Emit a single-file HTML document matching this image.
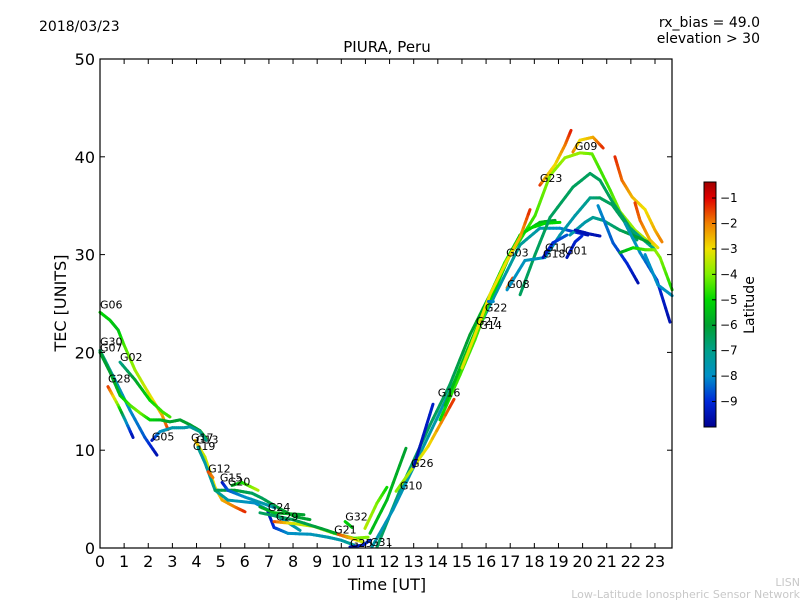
<!DOCTYPE html>
<html><head><meta charset="utf-8"><style>
html,body{margin:0;padding:0;background:#fff;}
svg{display:block;font-family:"DejaVu Sans","Liberation Sans",sans-serif;}
</style></head><body>
<svg id="chart" width="800" height="600" viewBox="0 0 800 600" xmlns="http://www.w3.org/2000/svg">
<rect x="0" y="0" width="800" height="600" fill="#fff"/>
<text x="39" y="31" font-size="14">2018/03/23</text>
<text x="760" y="27" font-size="14" text-anchor="end">rx_bias = 49.0</text>
<text x="760" y="43" font-size="14" text-anchor="end">elevation &gt; 30</text>
<text x="387" y="52" font-size="15" text-anchor="middle">PIURA, Peru</text>
<text x="387" y="590" font-size="16" text-anchor="middle">Time [UT]</text>
<text x="0" y="0" font-size="16" text-anchor="middle" transform="translate(66,303) rotate(-90)">TEC [UNITS]</text>
<g id="plot"></g>
<rect x="100" y="59" width="572" height="489" fill="none" stroke="#000" stroke-width="1.2"/>
<g id="axes"></g>
<defs><linearGradient id="cbg" x1="0" y1="1" x2="0" y2="0"></linearGradient></defs>
<g id="cbar"></g>
<text x="0" y="0" font-size="14" text-anchor="middle" transform="translate(754,305) rotate(-90)">Latitude</text>
<text x="800" y="586" font-size="11" fill="#c8c8c8" text-anchor="end">LISN</text>
<text x="800" y="598" font-size="11" fill="#c8c8c8" text-anchor="end">Low-Latitude Ionospheric Sensor Network</text>
</svg>
<script>
// ---- data ----
const xTicks = [0,1,2,3,4,5,6,7,8,9,10,11,12,13,14,15,16,17,18,19,20,21,22,23];
const yTicks = [0,10,20,30,40,50];
const latTicks = [-1,-2,-3,-4,-5,-6,-7,-8,-9];
const trackNames = ["G06","G30","G07","G28","G02","G05","G19","G17","G13","G20","G15","G12","G24","G29","G24b","G29b","G32","G21","G25","G32b","G10","G31","G16","G14","G26","G09a","G03","G27","G08","G22","G23","G09","G11a","G11b","G11c","Gd1","Gd2","Gt1","Gr1","Gr2","Gg1","G01a","G18","G01"];
const trackTimes = [
[0,.41,.75,.99,1.45,2.07,2.57,2.82],
[0,.62,1.24,1.86,2.36],
[0,.41,.83,1.24,1.66,2.07,2.49,2.9,3.32,3.73,4.14,4.4],
[.33,.75,1.04,1.37],
[.83,1.45,2.07,2.6,2.9],
[2.15,2.49,3.0,3.5,3.73,4.14,4.4],
[3.94,4.35,4.77,5.06,5.59,6.01],
[4.06,4.35,4.77,5.3,6.42,6.96,7.79,8.29],
[4.77,5.59,6.3,6.71,7.54,8.08,8.7],
[5.47,5.88,6.55],
[5.06,5.3,6.01,6.71,7.25],
[4.48,4.68],
[6.96,7.21,7.79,8.74,9.45,9.99,10.53],
[7.21,8.04,8.87,9.7,10.53,11.11],
[6.63,7.21,8.45],
[6.63,7.99,9.41,10.24,10.8],
[10.16,10.45],
[9.87,10.4,10.9],
[10.36,10.9,11.2],
[10.98,11.48,11.89],
[11.48,12.43,13.68,14.5,15.33,16.16,16.78,17.41,18.23,18.86],
[11.27,12.14,13.14,14.09,14.92,15.75,16.58,17.41,18.23,19.06,19.69,20.22],
[12.27,13.6,14.67],
[13.0,13.8],
[11.19,11.89,12.68],
[14.09,14.92,15.54,16.16,16.78,17.41,18.03,18.65,19.27,19.89,20.39,20.72,21.14,21.55,22.17,22.79,23.21,23.71],
[14.3,15.13,15.75,16.45,16.99,17.41,17.82,18.44,19.06],
[15.0,15.54,16.16,16.87,17.41,17.82],
[16.87,17.1],
[16.1,16.3],
[18.23,18.44,18.86,19.27,19.52],
[19.6,19.89,20.43,20.85],
[17.41,18.03,18.65,19.6,20.31,20.72,21.26,21.84,22.25],
[16.87,17.61,18.44,19.06,19.69,20.31,20.72,21.22,21.84,22.38,23.0],
[19.48,20.1,20.43,20.85,21.55,22.25,22.79],
[20.64,21.26,21.84,22.3],
[21.76,22.38,23.08,23.62],
[22.59,23.12,23.71],
[21.34,21.63,22.05,22.59,23,23.29],
[22.17,22.38,22.79,23.12],
[21.55,22.09,22.59,23],
[19.69,20.31,20.72],
[18.36,18.77,19.35],
[19.35,19.69,19.97]
];
const trackTec = [
[24.1,23.3,22.3,20.8,18.2,15.6,13.6,12.1],
[20.2,17.2,14.1,11.3,9.5],
[20,18,15.6,14.6,13.8,13.1,13.1,12.9,13.1,12.6,12,11.2],
[16.5,14.6,13.1,11.3],
[19,17.2,15.1,13.9,13.4],
[11,11.9,12.3,12.3,12.4,11.9,11],
[11,9.3,6.2,4.9,4.2,3.7],
[10.3,8.7,5.9,4.9,4.6,3.9,2.6,1.8],
[5.9,5.9,5.6,5.1,3.9,3.2,2.9],
[6.4,6.7,5.9],
[6.7,5.9,5.2,4.6,4.1],
[7.8,7.2],
[3.7,2.1,1.5,1.4,1.1,0.8,0.3],
[2.7,2.5,2.2,1.5,1.0,1.1],
[4.2,3.6,3.4],
[3.6,2.9,1.8,1.1,0.8],
[2.7,2.1],
[1.4,1.0,0.6],
[0.1,0.3,0.8],
[2,4.6,6.2],
[.1,5.9,12.6,16.7,21.8,25.9,29.2,32,33.3,33.5],
[.1,3.9,9,13.9,18.2,22.8,26.9,31,32.7,32.7,32.3,32],
[5.8,10.4,15.2],
[8.3,14.7],
[1.5,4.9,10.2],
[13.1,17.7,21.3,25.4,29.2,31.5,34,38.1,39.9,40.4,40.3,38.7,36.6,34.4,32.5,31.2,29.7,26.4],
[14.6,19.7,23.3,26.9,30,32,32.7,33.2,33.3],
[18.4,21.8,25.9,29.4,31.8,34.6],
[26.6,27.6],
[25.2,25.2],
[37.1,37.8,39.2,41.2,42.7],
[40.5,41.7,42,40.9],
[25.9,30,33.8,36.9,38.3,37.6,35.3,33.2,31.5],
[26.4,29.4,29.7,32,34,35.8,35.8,35.1,33,31.8,30.5],
[32,33.3,33.8,33.5,32.5,31.8,31.2],
[35,31.2,29.1,27.1],
[33.2,30.2,27.4,23.1],
[30,26.9,25.8],
[40,37.6,35.9,34.6,32.5,31.3],
[35.3,33.5,31.5,30.7],
[30.2,30.7,30.5,30.5],
[32.5,32.1,31.9],
[29.7,31.2,32],
[29.7,31.3,31.9]
];
const trackLat = [
[-5,-5.2,-5.5,-4.5,-3.8,-3.2,-2.5,-1.5],
[-6.5,-7.5,-8,-8.5,-9.6],
[-6,-6,-5.5,-4.5,-4,-5,-5.5,-6,-6,-6,-6,-5.5],
[-1.3,-4,-7.5,-9.6],
[-7,-6,-5,-4.5,-4.5],
[-9.5,-8,-7.5,-7.5,-7.5,-7,-7],
[-2.5,-3.5,-3,-2.5,-2,-1.3],
[-7,-7.5,-7,-7.5,-8,-8,-7.5,-7.5],
[-6.5,-6,-6.5,-6.5,-6,-6,-6],
[-6,-5,-3.5],
[-9.5,-8.5,-8,-7.5,-7.5],
[-1.5,-2],
[-9.6,-9,-8,-7.8,-7.5,-7.5,-7],
[-1.5,-3.3,-3.5,-3.8,-4,-4],
[-6,-5.5,-6],
[-6.5,-6.5,-6,-5.5,-4.5],
[-5,-5.5],
[-1.5,-2.5,-3.5],
[-9.6,-9.2,-9],
[-3.5,-4,-5],
[-6.5,-6.8,-6.5,-6.5,-6,-5.5,-5,-5,-5.5,-6],
[-7.5,-7.8,-7.5,-7.5,-7.5,-7.5,-7.5,-7.2,-7.5,-8,-9,-9.6],
[-4,-3,-1.3],
[-9.6,-9.2],
[-5.5,-5.5,-6],
[-5,-4.5,-4.5,-4.5,-4.5,-4.8,-4.5,-4,-3.8,-3.8,-4.2,-4.5,-4.5,-4,-3.8,-3.5,-4,-4.8],
[-5.5,-5.5,-5,-5,-5,-5.2,-5,-5,-5],
[-3.2,-3,-3,-3,-2.5,-1.3],
[-2.2,-1.5],
[-8.5,-8],
[-1.3,-2.5,-3,-2,-1.2],
[-2,-3,-2.5,-1.3],
[-6.5,-6.5,-6.5,-6.5,-6.5,-6.5,-6.5,-6.5,-6.5],
[-8,-7.8,-7.8,-7.5,-7.5,-7,-6.5,-6.5,-6.5,-7,-7],
[-7.5,-7.5,-7.2,-7,-6.5,-6,-6],
[-8,-8.5,-9,-9.6],
[-7.5,-8,-9,-9.6],
[-8,-8,-7.8],
[-1.3,-1.8,-2.5,-3,-2.5,-2],
[-1.5,-1.8,-2.5,-3],
[-6,-5,-4.5,-4],
[-9.5,-9.5,-9.5],
[-9.5,-9,-8.5],
[-9.5,-9.2,-9]
];
const labelNames = ["G06","G30","G07","G02","G28","G05","G17","G13","G19","G12","G15","G20","G24","G29","G32","G21","G25","G31","G10","G26","G16","G27","G14","G22","G08","G03","G11","G18","G01","G23","G09"];
const labelTimes = [0,0,0,.83,.33,2.15,3.77,3.98,3.85,4.48,4.97,5.3,6.96,7.29,10.16,9.7,10.36,11.19,12.43,12.89,14.0,15.58,15.72,15.95,16.87,16.83,18.44,18.36,19.27,18.23,19.68];
const labelTec = [24.4,20.6,20,19,16.8,10.9,10.8,10.6,9.9,7.6,6.7,6.3,3.7,2.7,2.7,1.4,0,0.1,5.9,8.2,15.4,22.7,22.3,24.1,26.5,29.7,30.2,29.6,29.9,37.3,40.6];

// ---- scales ----
const X0=100, X1=672, Y0=548, Y1=59;
const tMax = (X1-X0)/24.13;
function xs(t){return X0 + t*(X1-X0)/tMax;}
function ys(v){return Y0 - v*(Y0-Y1)/50;}
const latMin=-10, latMax=-0.37;
const cStops=[[-10,[0,0,144]],[-9,[0,40,216]],[-8,[0,144,200]],[-7,[0,160,138]],[-6,[0,160,48]],[-5,[0,216,0]],[-4,[128,240,0]],[-3,[240,224,0]],[-2,[240,128,0]],[-1,[224,0,0]],[-0.37,[160,0,0]]];
function col(l){
  l=Math.max(latMin,Math.min(latMax,l));
  for(let i=0;i<cStops.length-1;i++){
    const a=cStops[i],b=cStops[i+1];
    if(l<=b[0]){const f=(l-a[0])/(b[0]-a[0]);
      const c=a[1].map((v,k)=>Math.round(v+(b[1][k]-v)*f));
      return `rgb(${c[0]},${c[1]},${c[2]})`;}
  }
  return 'rgb(160,0,0)';
}
const NS="http://www.w3.org/2000/svg";
function mk(tag,attrs,parent){const e=document.createElementNS(NS,tag);for(const k in attrs)e.setAttribute(k,attrs[k]);parent.appendChild(e);return e;}

// ---- tracks ----
const plot=document.getElementById('plot');
trackTimes.forEach((ts,i)=>{
  const g=mk('g',{},plot);
  
  
  const vs=trackTec[i], ls=trackLat[i];
  for(let j=0;j<ts.length-1;j++){
    const n=6;
    for(let k=0;k<n;k++){
      const f0=k/n,f1=(k+1)/n,fm=(k+.5)/n;
      const t0=ts[j]+(ts[j+1]-ts[j])*f0, t1=ts[j]+(ts[j+1]-ts[j])*f1;
      const v0=vs[j]+(vs[j+1]-vs[j])*f0, v1=vs[j]+(vs[j+1]-vs[j])*f1;
      const l=ls[j]+(ls[j+1]-ls[j])*fm;
      const s=mk('line',{x1:xs(t0).toFixed(2),y1:ys(v0).toFixed(2),x2:xs(t1).toFixed(2),y2:ys(v1).toFixed(2),stroke:col(l),'stroke-width':3,'stroke-linecap':'round'},g);
      
      
    }
  }
});
labelNames.forEach((n,i)=>{
  const t=mk('text',{x:xs(labelTimes[i]).toFixed(1),y:(ys(labelTec[i])-1).toFixed(1),'font-size':11},plot);
  
  
  t.textContent=n;
});

// ---- axes ----
const axes=document.getElementById('axes');
xTicks.forEach(v=>{
  const x=xs(v);
  const a=mk('line',{x1:x,y1:Y0,x2:x,y2:Y0-5,stroke:'#000','stroke-width':1},axes);
  
  
  const b=mk('line',{x1:x,y1:Y1,x2:x,y2:Y1+5,stroke:'#000','stroke-width':1},axes);
  
  
  const t=mk('text',{x:x,y:Y0+19,'font-size':16,'text-anchor':'middle'},axes);
  
  
  t.textContent=v;
});
yTicks.forEach(v=>{
  const y=ys(v);
  const a=mk('line',{x1:X0,y1:y,x2:X0+5,y2:y,stroke:'#000','stroke-width':1},axes);
  
  
  const b=mk('line',{x1:X1,y1:y,x2:X1-5,y2:y,stroke:'#000','stroke-width':1},axes);
  
  
  const t=mk('text',{x:X0-5,y:y+6,'font-size':16,'text-anchor':'end'},axes);
  
  
  t.textContent=v;
});

// ---- colorbar ----
const CB={x:704,w:12,top:182,bot:427};
function cy(l){return CB.bot-(l-latMin)*(CB.bot-CB.top)/(latMax-latMin);}
const grad=document.getElementById('cbg');
cStops.forEach(s=>{mk('stop',{offset:((s[0]-latMin)/(latMax-latMin)).toFixed(4),'stop-color':col(s[0])},grad);});
const cbar=document.getElementById('cbar');
const r=mk('rect',{x:CB.x,y:CB.top,width:CB.w,height:CB.bot-CB.top,fill:'url(#cbg)',stroke:'#000','stroke-width':1},cbar);


latTicks.forEach(l=>{
  const y=cy(l);
  const a=mk('line',{x1:CB.x+CB.w,y1:y,x2:CB.x+CB.w-4,y2:y,stroke:'#000','stroke-width':1},cbar);
  
  
  const t=mk('text',{x:CB.x+CB.w+4,y:y+4,'font-size':12},cbar);
  
  
  t.textContent='\u2212'+Math.abs(l);
});
</script>
</body></html>
